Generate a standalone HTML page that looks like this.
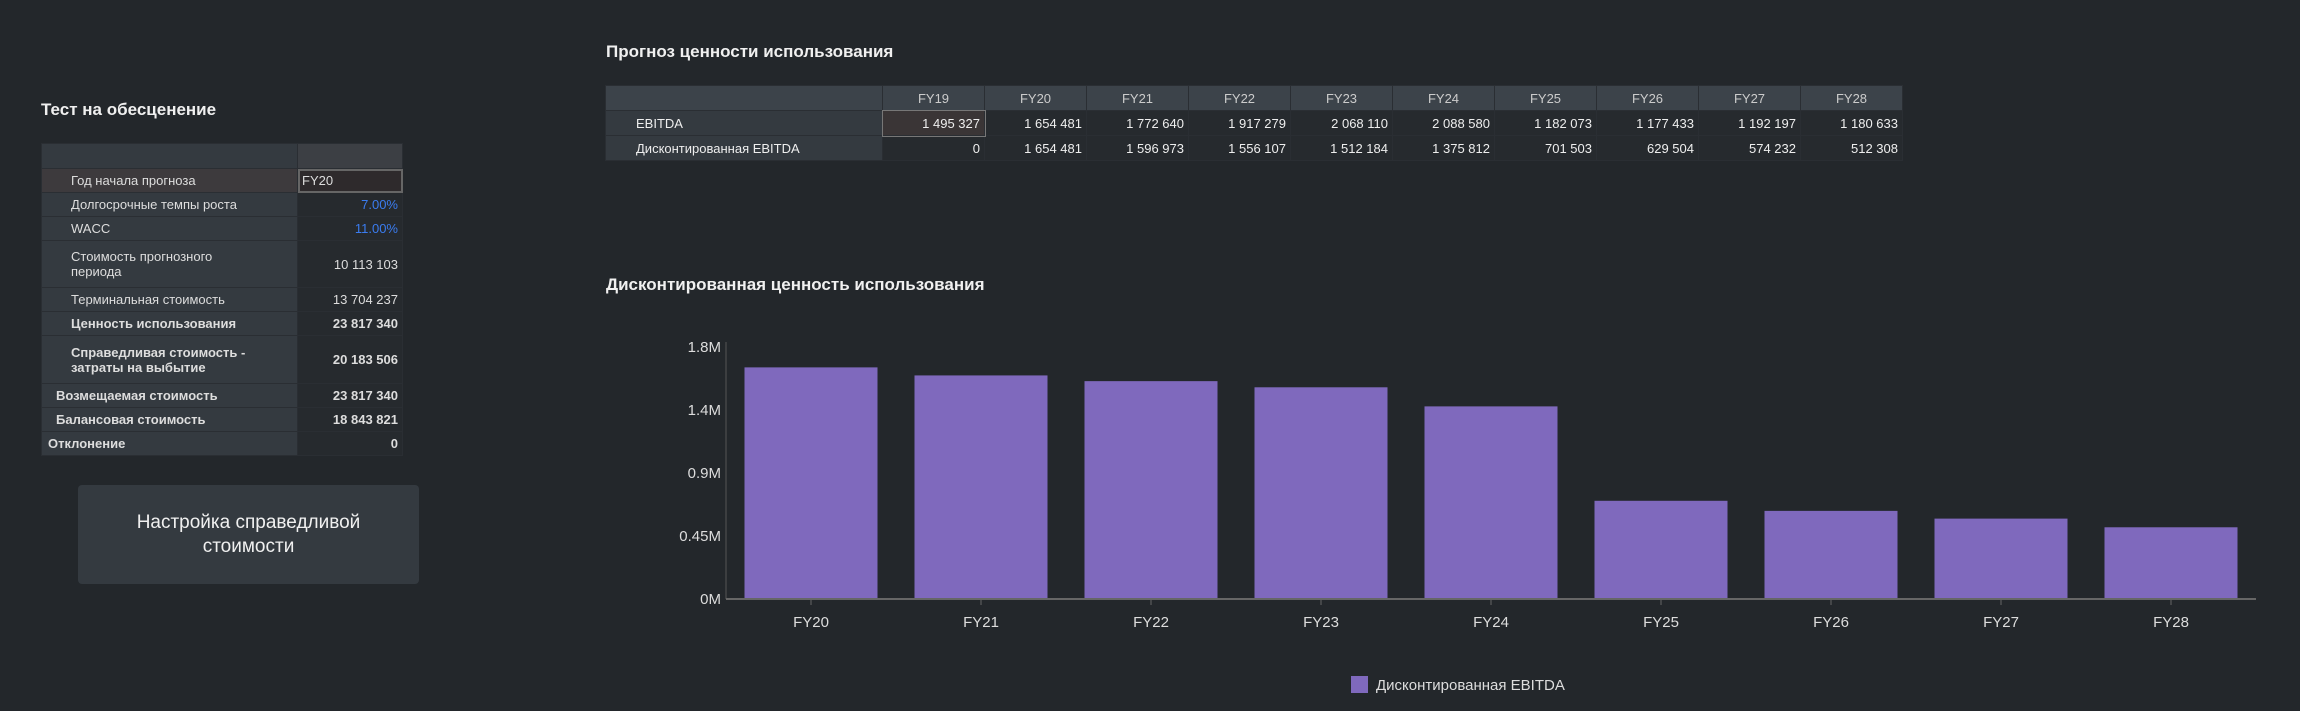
<!DOCTYPE html>
<html><head><meta charset="utf-8">
<style>
body{margin:0;width:2300px;height:711px;background:#23272b;font-family:"Liberation Sans",sans-serif;color:#e6e6e6;position:relative;overflow:hidden}
.abs{position:absolute}
.h{font-weight:bold;font-size:17px;color:#f0f0f0}
#lt{position:absolute;left:41px;top:143px;width:362px;border-collapse:collapse;font-size:13px}
#lt td{border:1px solid #2a2e33;padding:0 4px;background:#343a40;color:#ddd}
#lt td.v{background:#262a2e;text-align:right;width:96px}
#tt{position:absolute;left:605px;top:85px;border-collapse:collapse;font-size:13px}
#tt td{border:1px solid #2a2e33;height:24px;padding:0 4px;text-align:right;background:#262a2e;color:#eee;width:93px}
#tt tr:first-child td{background:#3c434a;text-align:center;color:#ccc}
#tt td.l{background:#343a40;text-align:left;width:242px;padding-left:30px}
</style></head><body>
<div class="abs h" style="left:41px;top:100px">Тест на обесценение</div>
<table id="lt">
<tr style="height:25px"><td></td><td class="v" style="background:#3c3f44"></td></tr>
<tr style="height:24px"><td style="padding-left:29px;background:#3d3a3d">Год начала прогноза</td><td class="v" style="text-align:left;background:#2e2a2c;outline:2px solid #666;outline-offset:-2px">FY20</td></tr>
<tr style="height:24px"><td style="padding-left:29px">Долгосрочные темпы роста</td><td class="v" style="color:#3a7cf0">7.00%</td></tr>
<tr style="height:24px"><td style="padding-left:29px">WACC</td><td class="v" style="color:#3a7cf0">11.00%</td></tr>
<tr style="height:47px"><td style="padding-left:29px">Стоимость прогнозного<br>периода</td><td class="v">10 113 103</td></tr>
<tr style="height:24px"><td style="padding-left:29px">Терминальная стоимость</td><td class="v">13 704 237</td></tr>
<tr style="height:24px;font-weight:bold"><td style="padding-left:29px">Ценность использования</td><td class="v">23 817 340</td></tr>
<tr style="height:48px;font-weight:bold"><td style="padding-left:29px">Справедливая стоимость -<br>затраты на выбытие</td><td class="v">20 183 506</td></tr>
<tr style="height:24px;font-weight:bold"><td style="padding-left:14px">Возмещаемая стоимость</td><td class="v">23 817 340</td></tr>
<tr style="height:24px;font-weight:bold"><td style="padding-left:14px">Балансовая стоимость</td><td class="v">18 843 821</td></tr>
<tr style="height:24px;font-weight:bold"><td style="padding-left:6px">Отклонение</td><td class="v">0</td></tr>
</table>
<div class="abs" style="left:78px;top:485px;width:341px;height:99px;background:#343a40;border-radius:4px;display:flex;align-items:center;justify-content:center;text-align:center;font-size:19px;line-height:24px;color:#f0f0f0">Настройка справедливой<br>стоимости</div>

<div class="abs h" style="left:606px;top:42px">Прогноз ценности использования</div>
<table id="tt">
<tr><td class="l"></td><td>FY19</td><td>FY20</td><td>FY21</td><td>FY22</td><td>FY23</td><td>FY24</td><td>FY25</td><td>FY26</td><td>FY27</td><td>FY28</td></tr>
<tr><td class="l">EBITDA</td><td style="background:#3a3536;outline:1px solid #777">1 495 327</td><td>1 654 481</td><td>1 772 640</td><td>1 917 279</td><td>2 068 110</td><td>2 088 580</td><td>1 182 073</td><td>1 177 433</td><td>1 192 197</td><td>1 180 633</td></tr>
<tr><td class="l" style="padding-left:30px">Дисконтированная EBITDA</td><td>0</td><td>1 654 481</td><td>1 596 973</td><td>1 556 107</td><td>1 512 184</td><td>1 375 812</td><td>701 503</td><td>629 504</td><td>574 232</td><td>512 308</td></tr>
</table>

<div class="abs h" style="left:606px;top:275px">Дисконтированная ценность использования</div>
<svg class="abs" style="left:0;top:0" width="2300" height="711" id="chart"></svg>
<script>
const categories=["FY20","FY21","FY22","FY23","FY24","FY25","FY26","FY27","FY28"];
const values=[1654481,1596973,1556107,1512184,1375812,701503,629504,574232,512308];
const tickValues=[0,450000,900000,1350000,1800000];
const tickLabels=["0M","0.45M","0.9M","1.4M","1.8M"];
const svg=document.getElementById('chart');const NS='http://www.w3.org/2000/svg';
const x0=726,x1=2256,y0=599,yTop=347,yMax=1800000;
const step=(x1-x0)/categories.length,bw=133;
const y=v=>y0-(v/yMax)*(y0-yTop);
const xc=i=>x0+step*(i+0.5);
function mk(t,a,txt){const e=document.createElementNS(NS,t);for(const k in a)e.setAttribute(k,a[k]);if(txt!=null)e.textContent=txt;svg.appendChild(e);return e;}
let e=mk('line',{x1:x0,y1:yTop-5,x2:x0,y2:y0,stroke:'#555'});


tickValues.forEach((v,i)=>{
 const t=mk('text',{x:x0-5,y:y(v)+5,'text-anchor':'end','font-size':'15','fill':'#ddd','font-family':'Liberation Sans'},tickLabels[i]);
 
 
});
values.forEach((v,i)=>{
 const r=mk('rect',{x:xc(i)-bw/2,y:y(v),width:bw,height:y0-y(v),fill:'#7f69bd'});
 
 
 mk('line',{x1:xc(i),y1:y0,x2:xc(i),y2:y0+6,stroke:'#666'});
 const t=mk('text',{x:xc(i),y:y0+28,'text-anchor':'middle','font-size':'15','fill':'#ddd','font-family':'Liberation Sans'},categories[i]);
 
 
});
e=mk('line',{x1:x0,y1:y0,x2:x1,y2:y0,stroke:'#666','stroke-width':2});


e=mk('rect',{x:1351,y:676,width:17,height:17,fill:'#7f69bd'});


e=mk('text',{x:1376,y:690,'font-size':'15','fill':'#ddd','font-family':'Liberation Sans'},'Дисконтированная EBITDA');


</script>
</body></html>
